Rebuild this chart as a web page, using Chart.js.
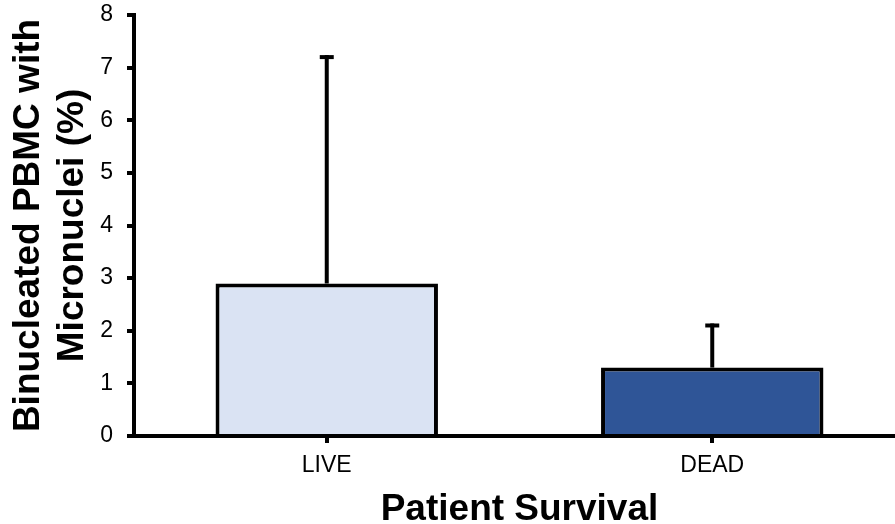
<!DOCTYPE html>
<html>
<head>
<meta charset="utf-8">
<script src="https://cdn.jsdelivr.net/npm/chart.js@4/dist/chart.umd.min.js"></script>
<style>
  html, body { margin: 0; padding: 0; background: #fff; overflow: hidden; }
  #wrap { width: 905px; height: 524px; position: relative; }
</style>
</head>
<body>
<div id="wrap"><canvas id="c"></canvas></div>
<script>
// Micronucleus frequency by patient outcome
const categories = ['LIVE', 'DEAD'];
const meanValues = [2.9, 1.3];      // % binucleated PBMC with micronuclei
const errorPlus = [4.3, 0.8];       // upper error (SD)
const barColors = ['#DAE3F3', '#2F5597'];
const yTicks = [0, 1, 2, 3, 4, 5, 6, 7, 8];

const FONT = '"Liberation Sans", Arial, sans-serif';

// Upper-only error bars with a short cap, drawn through the chart's own scales
const errorBars = {
  id: 'errorBars',
  afterDatasetsDraw(chart) {
    const { ctx, scales: { x, y } } = chart;
    ctx.save();
    ctx.strokeStyle = '#000';
    ctx.lineWidth = 4;
    ctx.lineCap = 'butt';
    meanValues.forEach((v, i) => {
      const px = x.getPixelForValue(i);
      const yBase = y.getPixelForValue(v);
      const yTop = y.getPixelForValue(v + errorPlus[i]);
      ctx.beginPath();
      ctx.moveTo(px, yBase);
      ctx.lineTo(px, yTop - 2);
      ctx.stroke();
      ctx.beginPath();
      ctx.moveTo(px - 7, yTop);
      ctx.lineTo(px + 7, yTop);
      ctx.stroke();
    });
    ctx.restore();
  }
};

new Chart(document.getElementById('c'), {
  type: 'bar',
  data: {
    labels: categories,
    datasets: [{
      data: meanValues,
      backgroundColor: barColors,
      borderColor: '#000',
      borderWidth: 4,
      borderSkipped: 'start',
      categoryPercentage: 1,
      barPercentage: 0.577
    }]
  },
  options: {
    responsive: true,
    maintainAspectRatio: false,
    animation: false,
    layout: { padding: { top: 15, right: 0, bottom: 0, left: 0 } },
    plugins: {
      legend: { display: false },
      tooltip: { enabled: false }
    },
    scales: {
      x: {
        z: 1,
        grid: { display: true, drawOnChartArea: false, offset: false, color: '#000', lineWidth: 4, tickLength: 7 },
        border: { display: true, color: '#000', width: 4 },
        ticks: { color: '#000', padding: 9, font: { family: FONT, size: 23 } },
        title: {
          display: true,
          text: 'Patient Survival',
          color: '#000',
          font: { family: FONT, size: 37, weight: 'bold', lineHeight: 0.6 },
          padding: { top: 0, bottom: 3 }
        },
        afterFit(scale) {
          scale.height = 88;
          scale.paddingLeft = 0;
          scale.paddingRight = 0;
        }
      },
      y: {
        min: 0,
        max: 8,
        afterBuildTicks(scale) { scale.ticks = yTicks.map(v => ({ value: v })); },
        grid: { display: true, drawOnChartArea: false, color: '#000', lineWidth: 4, tickLength: 7 },
        border: { display: true, color: '#000', width: 4 },
        ticks: { color: '#000', padding: 14, font: { family: FONT, size: 23 } },
        title: {
          display: true,
          text: ['Binucleated PBMC with', 'Micronuclei (%)'],
          color: '#000',
          font: { family: FONT, size: 37, weight: 'bold', lineHeight: 1.17 },
          padding: { top: 7.5, bottom: 0 }
        },
        afterFit(scale) {
          scale.width = 134;
          scale.paddingTop = 0;
          scale.paddingBottom = 0;
        }
      }
    }
  },
  plugins: [errorBars]
});
</script>
</body>
</html>
